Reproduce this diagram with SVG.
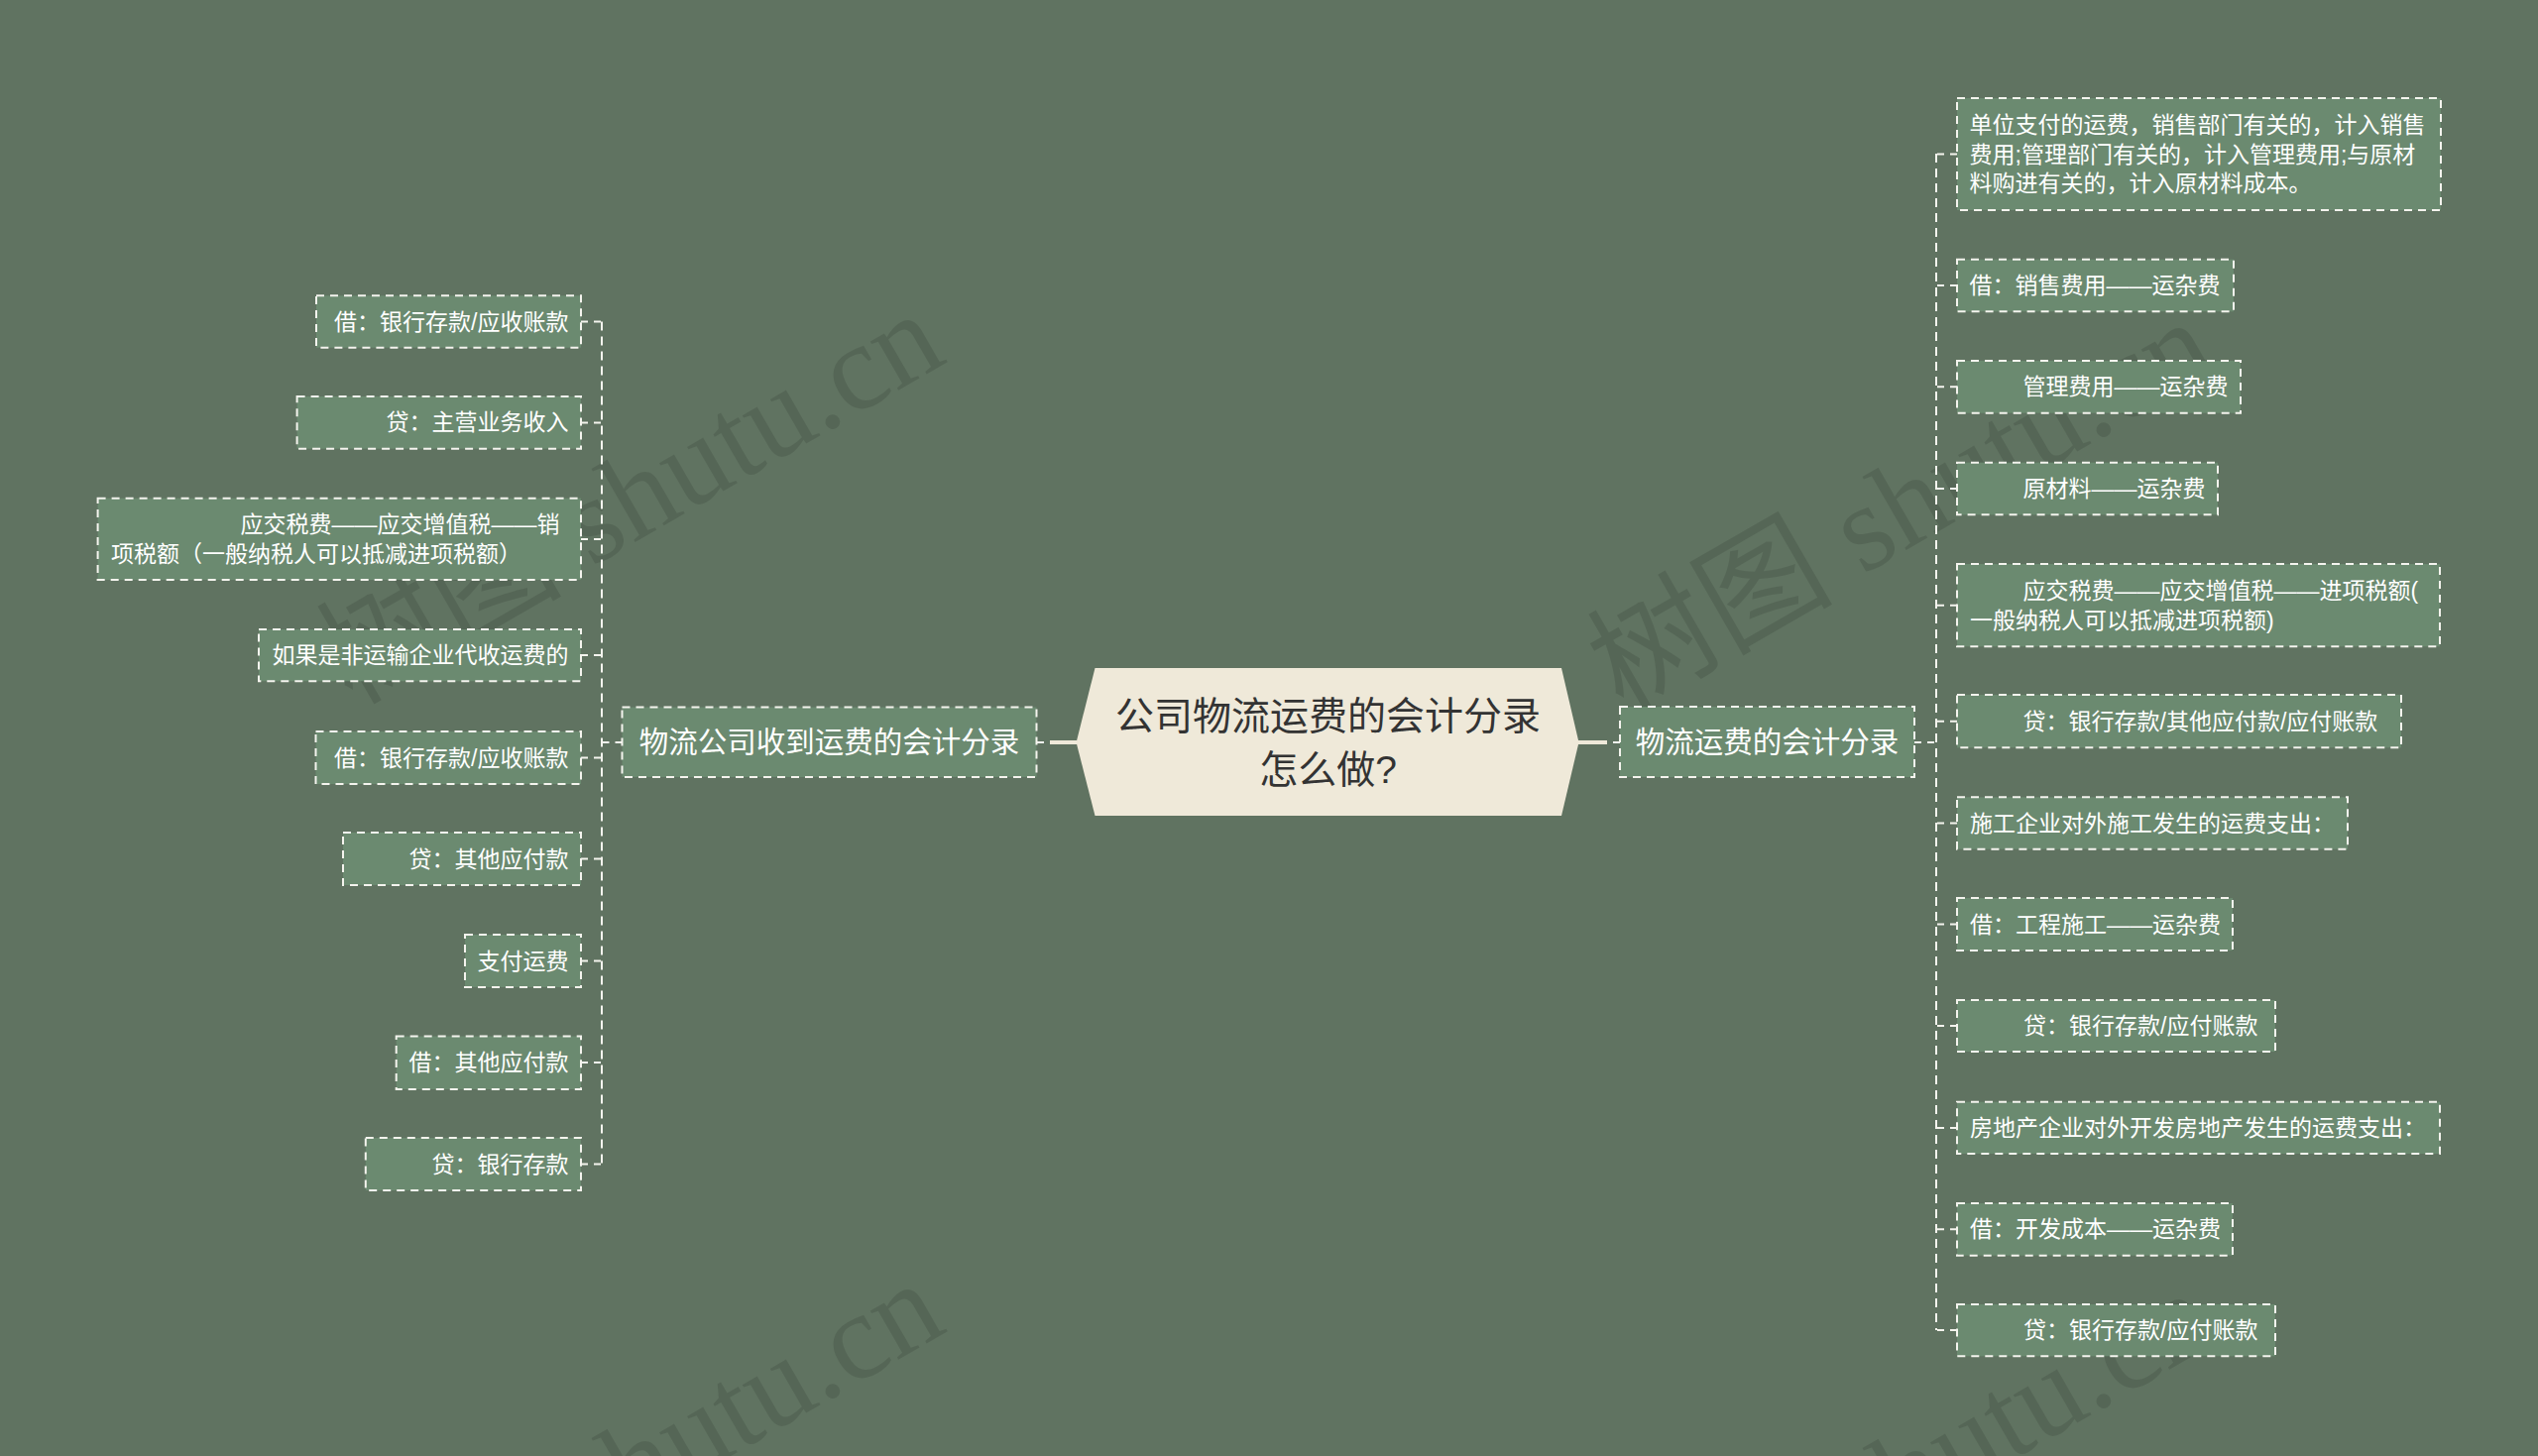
<svg xmlns="http://www.w3.org/2000/svg" width="2560" height="1469" viewBox="0 0 2560 1469">
<defs>
<style>
.bg{fill:#607361}
.wm{font-family:"Liberation Serif","Noto Sans CJK SC",serif;font-size:124px;fill:#000;fill-opacity:0.11}
.box{fill:#6b8a70;stroke:#f4f4ee;stroke-width:2;stroke-dasharray:8 6}
.t{font-family:"Liberation Sans","Noto Sans CJK SC",sans-serif;font-size:23px;fill:#ffffff;dominant-baseline:central}
.tb{font-family:"Liberation Sans","Noto Sans CJK SC",sans-serif;font-size:29.5px;fill:#ffffff;dominant-baseline:central;text-anchor:middle}
.tc{font-family:"Liberation Sans","Noto Sans CJK SC",sans-serif;font-size:39px;fill:#333333;dominant-baseline:central;text-anchor:middle}
.end{text-anchor:end}
.dl{fill:none;stroke:#f4f4ee;stroke-width:2;stroke-dasharray:9 6}
.st{fill:none;stroke:#f4f4ee;stroke-width:2;stroke-dasharray:7 6}
.solid{fill:none;stroke:#efe9d9;stroke-width:4}
</style>
</defs>
<rect class="bg" x="0" y="0" width="2560" height="1469"/>

<g id="watermarks">
<text class="wm" transform="translate(355,712) rotate(-30)">树图 shutu.cn</text>
<text class="wm" transform="translate(1637,720) rotate(-30)">树图 shutu.cn</text>
<text class="wm" transform="translate(355,1690) rotate(-30)">树图 shutu.cn</text>
<text class="wm" transform="translate(1637,1700) rotate(-30)">树图 shutu.cn</text>
</g>

<g id="connectors">
<line class="solid" x1="1592" y1="749" x2="1621" y2="749"/>
<path class="st" d="M1634,749 H1622"/>
<line class="solid" x1="1086" y1="749" x2="1059" y2="749"/>
<path class="st" d="M1046,749 H1058"/>
<path class="st" d="M1931,749 H1953"/>
<path class="dl" d="M1953,155 V1342"/>
<path class="st" d="M1974,155.5 H1953"/>
<path class="st" d="M1974,288 H1953"/>
<path class="st" d="M1974,390.3 H1953"/>
<path class="st" d="M1974,493 H1953"/>
<path class="st" d="M1974,610.7 H1953"/>
<path class="st" d="M1974,727.7 H1953"/>
<path class="st" d="M1974,830.5 H1953"/>
<path class="st" d="M1974,932.5 H1953"/>
<path class="st" d="M1974,1035 H1953"/>
<path class="st" d="M1974,1138 H1953"/>
<path class="st" d="M1974,1240.3 H1953"/>
<path class="st" d="M1974,1342 H1953"/>
<path class="st" d="M627.5,749 H607"/>
<path class="dl" d="M607,324.5 V1174.5"/>
<path class="st" d="M586,324.5 H607"/>
<path class="st" d="M586,426.4 H607"/>
<path class="st" d="M586,543.9 H607"/>
<path class="st" d="M586,661 H607"/>
<path class="st" d="M586,764.5 H607"/>
<path class="st" d="M586,866.5 H607"/>
<path class="st" d="M586,969.5 H607"/>
<path class="st" d="M586,1072 H607"/>
<path class="st" d="M586,1174.5 H607"/>
</g>

<g id="center">
<polygon points="1104.5,674 1575,674 1592.5,749 1575,823 1104.5,823 1085.6,749" fill="#efe9d9"/>
<text class="tc" x="1339.5" y="722.5">公司物流运费的会计分录</text>
<text class="tc" x="1339.5" y="776.5">怎么做?</text>
</g>

<g id="branch-right">
<rect class="box" x="1634" y="713" width="297" height="71"/>
<text class="tb" x="1782.5" y="748.5">物流运费的会计分录</text>
</g>
<g id="branch-left">
<rect class="box" x="627.5" y="713.5" width="418" height="70.5"/>
<text class="tb" x="836.5" y="748.5">物流公司收到运费的会计分录</text>
</g>

<g id="r1">
<rect class="box" x="1974" y="99" width="488" height="113"/>
<text class="t" x="1986.5" y="126">单位支付的运费，销售部门有关的，计入销售</text>
<text class="t" x="1986.5" y="155.5">费用;管理部门有关的，计入管理费用;与原材</text>
<text class="t" x="1986.5" y="185">料购进有关的，计入原材料成本。</text>
</g>
<g id="r2">
<rect class="box" x="1974" y="261.7" width="279" height="52.6"/>
<text class="t" x="1986.5" y="288">借：销售费用——运杂费</text>
</g>
<g id="r3">
<rect class="box" x="1974" y="364" width="286" height="52.7"/>
<text class="t" x="2040.5" y="390.3">管理费用——运杂费</text>
</g>
<g id="r4">
<rect class="box" x="1974" y="466.7" width="263" height="52.6"/>
<text class="t" x="2040.5" y="493">原材料——运杂费</text>
</g>
<g id="r5">
<rect class="box" x="1974" y="569" width="487" height="83.3"/>
<text class="t" x="2040.5" y="596">应交税费——应交增值税——进项税额(</text>
<text class="t" x="1987" y="625.5">一般纳税人可以抵减进项税额)</text>
</g>
<g id="r6">
<rect class="box" x="1974" y="701" width="448" height="53.3"/>
<text class="t" x="2040.5" y="727.7">贷：银行存款/其他应付款/应付账款</text>
</g>
<g id="r7">
<rect class="box" x="1974" y="804.3" width="394" height="52.4"/>
<text class="t" x="1987" y="830.5">施工企业对外施工发生的运费支出：</text>
</g>
<g id="r8">
<rect class="box" x="1974" y="906" width="278" height="53"/>
<text class="t" x="1987" y="932.5">借：工程施工——运杂费</text>
</g>
<g id="r9">
<rect class="box" x="1974" y="1009" width="321" height="52"/>
<text class="t" x="2041" y="1035">贷：银行存款/应付账款</text>
</g>
<g id="r10">
<rect class="box" x="1974" y="1111.7" width="487" height="52.3"/>
<text class="t" x="1987" y="1138">房地产企业对外开发房地产发生的运费支出：</text>
</g>
<g id="r11">
<rect class="box" x="1974" y="1214" width="278" height="52.7"/>
<text class="t" x="1987" y="1240.3">借：开发成本——运杂费</text>
</g>
<g id="r12">
<rect class="box" x="1974" y="1316" width="321" height="52.3"/>
<text class="t" x="2041" y="1342">贷：银行存款/应付账款</text>
</g>

<g id="l1">
<rect class="box" x="319" y="298.3" width="267" height="52.4"/>
<text class="t end" x="573.5" y="324.5">借：银行存款/应收账款</text>
</g>
<g id="l2">
<rect class="box" x="299.6" y="400" width="286.4" height="52.7"/>
<text class="t end" x="573.5" y="426.4">贷：主营业务收入</text>
</g>
<g id="l3">
<rect class="box" x="98.6" y="502.7" width="487.4" height="82.3"/>
<text class="t" x="242.5" y="529.2">应交税费——应交增值税——销</text>
<text class="t" x="112" y="558.7">项税额（一般纳税人可以抵减进项税额）</text>
</g>
<g id="l4">
<rect class="box" x="261" y="635" width="325" height="52.3"/>
<text class="t end" x="573.5" y="661">如果是非运输企业代收运费的</text>
</g>
<g id="l5">
<rect class="box" x="318.5" y="738" width="267.5" height="53"/>
<text class="t end" x="573.5" y="764.5">借：银行存款/应收账款</text>
</g>
<g id="l6">
<rect class="box" x="346" y="840" width="240" height="53"/>
<text class="t end" x="573.5" y="866.5">贷：其他应付款</text>
</g>
<g id="l7">
<rect class="box" x="469" y="943" width="117" height="53"/>
<text class="t end" x="573.5" y="969.5">支付运费</text>
</g>
<g id="l8">
<rect class="box" x="399.7" y="1045.5" width="186.3" height="53.5"/>
<text class="t end" x="573.5" y="1072">借：其他应付款</text>
</g>
<g id="l9">
<rect class="box" x="368.8" y="1148" width="217.2" height="53"/>
<text class="t end" x="573.5" y="1174.5">贷：银行存款</text>
</g>
</svg>
